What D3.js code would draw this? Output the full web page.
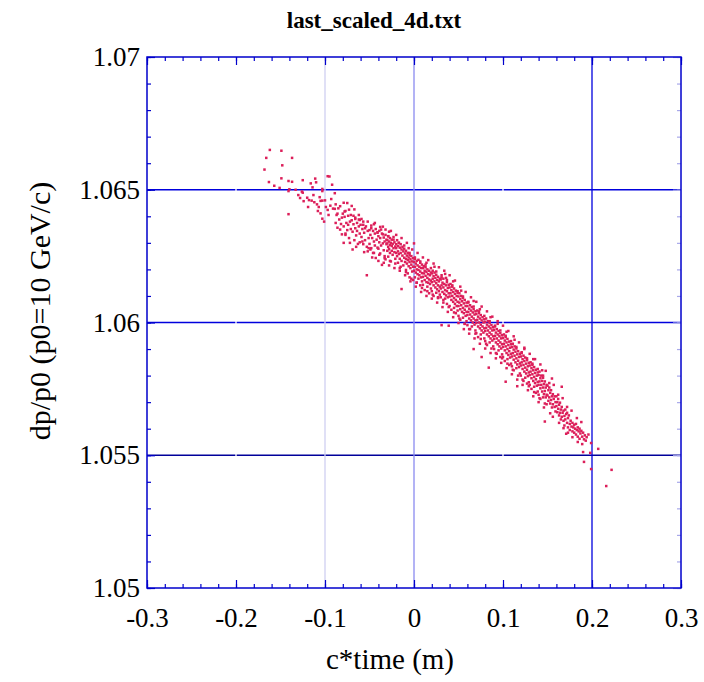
<!DOCTYPE html>
<html>
<head>
<meta charset="utf-8">
<script src="https://cdn.jsdelivr.net/npm/d3@7"></script>
<style>
	body { margin: 0; background: #fff; }
	svg { display: block; }
</style>
</head>
<body>
<svg width="704" height="682"></svg>
<script>
// chart texts
var chartTitle = "last_scaled_4d.txt";
var xLabel = "c*time (m)";
var yLabel = "dp/p0 (p0=10 GeV/c)";

// tick values and labels
var xMajorTicks = [-0.3, -0.2, -0.1, 0, 0.1, 0.2, 0.3];
var xTickLabels = ["-0.3", "-0.2", "-0.1", "0", "0.1", "0.2", "0.3"];
var yMajorTicks = [1.05, 1.055, 1.06, 1.065, 1.07];
var yTickLabels = ["1.05", "1.055", "1.06", "1.065", "1.07"];
var xGridValues = [-0.2, -0.1, 0, 0.1, 0.2];
var yGridValues = [1.055, 1.06, 1.065];

// particles: [c*time, dp/p0]
// head of the bunch (sparse, upper left)
var tailPoints = [
	[-0.162,1.06650],[-0.149,1.06647],[-0.166,1.06620],[-0.137,1.06620],[-0.148,1.06592],[-0.168,1.06576],
	[-0.163,1.06529],[-0.157,1.06515],[-0.149,1.06543],[-0.141,1.06533],[-0.137,1.06530],[-0.151,1.06507],
	[-0.140,1.06502],[-0.141,1.06495],[-0.125,1.06536],[-0.116,1.06524],[-0.111,1.06542],[-0.110,1.06528],
	[-0.114,1.06509],[-0.097,1.06551],[-0.095,1.06550],[-0.092,1.06519],[-0.089,1.06487],[-0.103,1.06503],
	[-0.103,1.06495],[-0.126,1.06493],[-0.125,1.06489],[-0.128,1.06469],[-0.124,1.06457],[-0.118,1.06461],
	[-0.115,1.06459],[-0.119,1.06435],[-0.112,1.06453],[-0.109,1.06445],[-0.106,1.06472],[-0.107,1.06435],
	[-0.105,1.06458],[-0.103,1.06459],[-0.141,1.06408],[-0.105,1.06411],[-0.103,1.06391],[-0.099,1.06435],
	[-0.097,1.06424],[-0.091,1.06429],[-0.120,1.06470],[-0.113,1.06480],[-0.100,1.06460],[-0.094,1.06440],
	[-0.130,1.06480],[-0.133,1.06500],[-0.108,1.06420],[-0.096,1.06405],[-0.101,1.06380],[-0.093,1.06465],
	[-0.079,1.06451],[-0.075,1.06450],[-0.070,1.06439],[-0.067,1.06426],[-0.061,1.06386]
];
// c*time -0.09 .. -0.03
var headBand = [
	[-0.089,1.06428],[-0.088,1.06375],[-0.087,1.06405],[-0.086,1.06357],[-0.085,1.06430],[-0.084,1.06388],[-0.083,1.06438],
	[-0.082,1.06371],[-0.081,1.06395],[-0.081,1.06332],[-0.086,1.06410],[-0.088,1.06445],[-0.083,1.06350],
	[-0.080,1.06410],[-0.079,1.06362],[-0.078,1.06398],[-0.077,1.06335],[-0.077,1.06420],[-0.076,1.06375],[-0.075,1.06348],
	[-0.074,1.06402],[-0.073,1.06318],[-0.072,1.06380],[-0.071,1.06352],[-0.079,1.06300],[-0.074,1.06368],[-0.071,1.06405],
	[-0.070,1.06385],[-0.069,1.06342],[-0.068,1.06370],[-0.067,1.06310],[-0.066,1.06395],[-0.066,1.06355],[-0.065,1.06328],
	[-0.064,1.06375],[-0.063,1.06296],[-0.062,1.06362],[-0.061,1.06335],[-0.068,1.06402],[-0.064,1.06345],[-0.062,1.06388],[-0.069,1.06275],
	[-0.060,1.06368],[-0.059,1.06322],[-0.058,1.06352],[-0.057,1.06295],[-0.057,1.06380],[-0.056,1.06338],[-0.055,1.06310],
	[-0.054,1.06362],[-0.053,1.06285],[-0.053,1.06178],[-0.052,1.06345],[-0.051,1.06318],[-0.059,1.06390],[-0.055,1.06355],
	[-0.052,1.06268],[-0.058,1.06305],
	[-0.050,1.06348],[-0.050,1.06296],[-0.049,1.06330],[-0.048,1.06365],[-0.048,1.06280],[-0.047,1.06318],[-0.046,1.06345],
	[-0.046,1.06262],[-0.045,1.06305],[-0.044,1.06335],[-0.044,1.06290],[-0.043,1.06243],[-0.043,1.06352],[-0.042,1.06312],
	[-0.041,1.06282],[-0.041,1.06338],[-0.049,1.06275],[-0.045,1.06370],
	[-0.040,1.06325],[-0.040,1.06278],[-0.039,1.06345],[-0.039,1.06302],[-0.038,1.06260],[-0.038,1.06318],[-0.037,1.06290],
	[-0.036,1.06335],[-0.036,1.06217],[-0.035,1.06361],[-0.035,1.06298],[-0.034,1.06272],[-0.034,1.06320],[-0.033,1.06305],
	[-0.033,1.06250],[-0.032,1.06330],[-0.032,1.06238],[-0.031,1.06295],[-0.031,1.06312],[-0.037,1.06350]
];
// c*time -0.03 .. 0.05
var coreBandLeft = [
	[-0.030,1.06310],[-0.030,1.06270],[-0.030,1.06298],[-0.029,1.06325],[-0.029,1.06285],[-0.029,1.06248],[-0.028,1.06305],
	[-0.028,1.06276],[-0.027,1.06318],[-0.027,1.06292],[-0.027,1.06262],[-0.026,1.06300],[-0.026,1.06230],[-0.025,1.06288],
	[-0.025,1.06312],[-0.025,1.06270],[-0.024,1.06296],[-0.024,1.06255],[-0.023,1.06322],[-0.023,1.06280],[-0.022,1.06302],
	[-0.022,1.06265],[-0.021,1.06286],[-0.021,1.06240],[-0.028,1.06342],
	[-0.020,1.06295],[-0.020,1.06262],[-0.020,1.06280],[-0.019,1.06310],[-0.019,1.06250],[-0.018,1.06288],[-0.018,1.06268],
	[-0.018,1.06225],[-0.017,1.06300],[-0.017,1.06258],[-0.016,1.06282],[-0.016,1.06240],[-0.015,1.06295],[-0.015,1.06262],
	[-0.014,1.06275],[-0.014,1.06126],[-0.014,1.06232],[-0.013,1.06285],[-0.013,1.06252],[-0.012,1.06268],[-0.012,1.06215],
	[-0.011,1.06278],[-0.011,1.06244],[-0.010,1.06260],[-0.016,1.06205],
	[-0.010,1.06228],[-0.009,1.06270],[-0.009,1.06240],[-0.009,1.06198],[-0.008,1.06252],[-0.008,1.06222],[-0.007,1.06262],
	[-0.007,1.06235],[-0.007,1.06185],[-0.006,1.06245],[-0.006,1.06212],[-0.005,1.06255],[-0.005,1.06228],[-0.005,1.06170],
	[-0.004,1.06238],[-0.004,1.06205],[-0.003,1.06250],[-0.003,1.06218],[-0.002,1.06230],[-0.002,1.06192],[-0.001,1.06242],
	[-0.001,1.06210],[-0.001,1.06160],[-0.006,1.06280],
	[0.000,1.06298],[0.000,1.06228],[0.000,1.06195],[0.001,1.06240],[0.001,1.06210],[0.001,1.06170],[0.002,1.06222],
	[0.002,1.06188],[0.003,1.06232],[0.003,1.06200],[0.003,1.06150],[0.004,1.06215],[0.004,1.06182],[0.005,1.06236],
	[0.005,1.06198],[0.005,1.06165],[0.006,1.06210],[0.006,1.06178],[0.007,1.06225],[0.007,1.06192],[0.007,1.06140],
	[0.008,1.06205],[0.008,1.06170],[0.009,1.06218],[0.009,1.06186],[0.009,1.06155],
	[0.010,1.06205],[0.010,1.06172],[0.010,1.06142],[0.011,1.06212],[0.011,1.06185],[0.012,1.06195],[0.012,1.06160],
	[0.012,1.06122],[0.013,1.06208],[0.013,1.06176],[0.014,1.06190],[0.014,1.06152],[0.015,1.06200],[0.015,1.06168],
	[0.015,1.06135],[0.016,1.06182],[0.016,1.06150],[0.017,1.06195],[0.017,1.06162],[0.017,1.06110],[0.018,1.06178],
	[0.018,1.06145],[0.019,1.06188],[0.019,1.06158],[0.019,1.06128],[0.014,1.06225],
	[0.020,1.06185],[0.020,1.06152],[0.020,1.06118],[0.021,1.06195],[0.021,1.06165],[0.022,1.06175],[0.022,1.06140],
	[0.022,1.06100],[0.023,1.06188],[0.023,1.06155],[0.024,1.06168],[0.024,1.06132],[0.025,1.06180],[0.025,1.06148],
	[0.025,1.06112],[0.026,1.06160],[0.026,1.06125],[0.027,1.06172],[0.027,1.06140],[0.027,1.06095],[0.028,1.06155],
	[0.028,1.06118],[0.029,1.06165],[0.029,1.06135],[0.029,1.06105],[0.023,1.06210],
	[0.030,1.06162],[0.030,1.06128],[0.030,1.06095],[0.031,1.06170],[0.031,1.05990],[0.031,1.06140],[0.032,1.06150],
	[0.032,1.06115],[0.033,1.06165],[0.033,1.06132],[0.033,1.06085],[0.034,1.06145],[0.034,1.06108],[0.035,1.06183],
	[0.035,1.06122],[0.035,1.06090],[0.036,1.06140],[0.036,1.06102],[0.037,1.06152],[0.037,1.06118],[0.037,1.06070],
	[0.038,1.06130],[0.038,1.06095],[0.039,1.06142],[0.039,1.05988],[0.039,1.06110],[0.036,1.06168],
	[0.040,1.06132],[0.040,1.06098],[0.040,1.06062],[0.041,1.06145],[0.041,1.06110],[0.042,1.06122],[0.042,1.06085],
	[0.042,1.06048],[0.043,1.06135],[0.043,1.06100],[0.044,1.06115],[0.044,1.06078],[0.045,1.06128],[0.045,1.06092],
	[0.045,1.06055],[0.046,1.06108],[0.046,1.06070],[0.047,1.06120],[0.047,1.06085],[0.047,1.06035],[0.048,1.06100],
	[0.048,1.06062],[0.049,1.06112],[0.049,1.06078],[0.049,1.06045],[0.044,1.06155]
];
// c*time 0.05 .. 0.10
var coreBandMid = [
	[0.050,1.06098],[0.050,1.06062],[0.050,1.06025],[0.051,1.06110],[0.051,1.06075],[0.052,1.06088],[0.052,1.06050],
	[0.052,1.06010],[0.053,1.06100],[0.053,1.06065],[0.054,1.06080],[0.054,1.06040],[0.055,1.06092],[0.055,1.06055],
	[0.055,1.06018],[0.056,1.06072],[0.056,1.06035],[0.057,1.06085],[0.057,1.06048],[0.057,1.05995],[0.058,1.06062],
	[0.058,1.06025],[0.059,1.06075],[0.059,1.06040],[0.059,1.06005],[0.053,1.06120],
	[0.060,1.06062],[0.060,1.06028],[0.060,1.05990],[0.061,1.06075],[0.061,1.06040],[0.062,1.06052],[0.062,1.06015],
	[0.062,1.05975],[0.063,1.06065],[0.063,1.06030],[0.064,1.06045],[0.064,1.06008],[0.065,1.06058],[0.065,1.06022],
	[0.065,1.05985],[0.066,1.06038],[0.066,1.06000],[0.067,1.06050],[0.067,1.06015],[0.067,1.05900],[0.068,1.06030],
	[0.068,1.05992],[0.069,1.06042],[0.069,1.06008],[0.069,1.05970],[0.067,1.06081],
	[0.070,1.06032],[0.070,1.05998],[0.070,1.05960],[0.071,1.06045],[0.071,1.06010],[0.072,1.06022],[0.072,1.05985],
	[0.072,1.05945],[0.073,1.06035],[0.073,1.06000],[0.074,1.06015],[0.074,1.05978],[0.075,1.06028],[0.075,1.05992],
	[0.075,1.05955],[0.076,1.06008],[0.076,1.05970],[0.076,1.05870],[0.077,1.06020],[0.077,1.05985],[0.078,1.06000],
	[0.078,1.05962],[0.079,1.06012],[0.079,1.05978],[0.079,1.05940],[0.074,1.06050],
	[0.080,1.06002],[0.080,1.05968],[0.080,1.05930],[0.081,1.06015],[0.081,1.05980],[0.082,1.05992],[0.082,1.05955],
	[0.082,1.05915],[0.083,1.06005],[0.083,1.05970],[0.084,1.05985],[0.084,1.05948],[0.084,1.05830],[0.085,1.05998],
	[0.085,1.05962],[0.085,1.05925],[0.086,1.05978],[0.086,1.05940],[0.087,1.05990],[0.087,1.05955],[0.088,1.05970],
	[0.088,1.05932],[0.089,1.05982],[0.089,1.05948],[0.089,1.05910],[0.086,1.06020],
	[0.090,1.05972],[0.090,1.05938],[0.090,1.05900],[0.091,1.05985],[0.091,1.05950],[0.092,1.05962],[0.092,1.05925],
	[0.092,1.05885],[0.093,1.05975],[0.093,1.05940],[0.094,1.05955],[0.094,1.05918],[0.095,1.05968],[0.095,1.05932],
	[0.095,1.05895],[0.096,1.05948],[0.096,1.05910],[0.097,1.05960],[0.097,1.05925],[0.097,1.05870],[0.098,1.05940],
	[0.098,1.05902],[0.099,1.05952],[0.099,1.05918],[0.099,1.05880],[0.094,1.05995]
];
// c*time 0.10 .. 0.15
var coreBandRight = [
	[0.100,1.05942],[0.100,1.05908],[0.100,1.05870],[0.101,1.05955],[0.101,1.05920],[0.102,1.05932],[0.102,1.05895],
	[0.102,1.05855],[0.103,1.05945],[0.103,1.05777],[0.103,1.05910],[0.104,1.05925],[0.104,1.05885],[0.105,1.05938],
	[0.105,1.05900],[0.105,1.05862],[0.106,1.05915],[0.106,1.05878],[0.107,1.05928],[0.107,1.05892],[0.107,1.05840],
	[0.108,1.05905],[0.108,1.05868],[0.109,1.05918],[0.109,1.05882],[0.109,1.05845],[0.104,1.05965],
	[0.110,1.05908],[0.110,1.05872],[0.110,1.05835],[0.111,1.05920],[0.111,1.05885],[0.112,1.05898],[0.112,1.05860],
	[0.112,1.05820],[0.113,1.05910],[0.113,1.05875],[0.114,1.05890],[0.114,1.05850],[0.115,1.05902],[0.115,1.05865],
	[0.115,1.05828],[0.116,1.05880],[0.116,1.05842],[0.116,1.05760],[0.117,1.05892],[0.117,1.05856],[0.118,1.05870],
	[0.118,1.05832],[0.119,1.05882],[0.119,1.05846],[0.119,1.05808],[0.113,1.05935],
	[0.120,1.05872],[0.120,1.05838],[0.120,1.05800],[0.121,1.05885],[0.121,1.05850],[0.122,1.05862],[0.122,1.05825],
	[0.122,1.05785],[0.123,1.05875],[0.123,1.05840],[0.124,1.05855],[0.124,1.05815],[0.125,1.05868],[0.125,1.05830],
	[0.125,1.05792],[0.126,1.05845],[0.126,1.05808],[0.127,1.05858],[0.127,1.05822],[0.127,1.05770],[0.128,1.05835],
	[0.128,1.05798],[0.129,1.05848],[0.129,1.05812],[0.129,1.05775],[0.124,1.05900],
	[0.130,1.05838],[0.130,1.05802],[0.130,1.05765],[0.131,1.05850],[0.131,1.05815],[0.132,1.05828],[0.132,1.05790],
	[0.132,1.05750],[0.133,1.05840],[0.133,1.05805],[0.134,1.05820],[0.134,1.05780],[0.135,1.05832],[0.135,1.05795],
	[0.135,1.05758],[0.136,1.05810],[0.136,1.05772],[0.137,1.05822],[0.137,1.05786],[0.137,1.05735],[0.138,1.05800],
	[0.138,1.05762],[0.139,1.05812],[0.139,1.05776],[0.139,1.05740],[0.134,1.05862],
	[0.140,1.05802],[0.140,1.05765],[0.140,1.05728],[0.141,1.05815],[0.141,1.05778],[0.142,1.05790],[0.142,1.05752],
	[0.142,1.05712],[0.143,1.05800],[0.143,1.05765],[0.144,1.05780],[0.144,1.05740],[0.145,1.05792],[0.145,1.05755],
	[0.145,1.05718],[0.146,1.05768],[0.146,1.05730],[0.147,1.05778],[0.147,1.05742],[0.147,1.05627],[0.148,1.05755],
	[0.148,1.05718],[0.149,1.05765],[0.149,1.05728],[0.149,1.05692],[0.144,1.05820]
];
// c*time 0.15 .. 0.196
var trailBand = [
	[0.150,1.05762],[0.150,1.05725],[0.151,1.05745],[0.151,1.05705],[0.152,1.05755],[0.152,1.05718],[0.153,1.05735],
	[0.153,1.05695],[0.154,1.05745],[0.154,1.05708],[0.155,1.05789],[0.155,1.05722],[0.155,1.05680],[0.156,1.05730],
	[0.156,1.05692],[0.157,1.05712],[0.158,1.05722],[0.158,1.05682],[0.159,1.05700],[0.159,1.05665],
	[0.160,1.05722],[0.160,1.05685],[0.161,1.05700],[0.161,1.05662],[0.162,1.05712],[0.162,1.05675],[0.163,1.05690],
	[0.163,1.05650],[0.164,1.05698],[0.164,1.05660],[0.165,1.05672],[0.165,1.05635],[0.166,1.05758],[0.166,1.05682],
	[0.166,1.05645],[0.167,1.05660],[0.168,1.05668],[0.168,1.05630],[0.169,1.05648],[0.169,1.05612],
	[0.170,1.05672],[0.170,1.05635],[0.171,1.05581],[0.171,1.05655],[0.172,1.05660],[0.172,1.05622],[0.173,1.05640],
	[0.173,1.05605],[0.174,1.05650],[0.175,1.05618],[0.175,1.05595],[0.176,1.05630],[0.177,1.05608],[0.178,1.05622],
	[0.178,1.05590],[0.179,1.05605],
	[0.180,1.05615],[0.180,1.05585],[0.181,1.05600],[0.182,1.05618],[0.182,1.05578],[0.183,1.05595],[0.184,1.05605],
	[0.184,1.05570],[0.185,1.05590],[0.186,1.05600],[0.186,1.05562],[0.187,1.05582],[0.188,1.05592],[0.189,1.05570],
	[0.190,1.05585],[0.191,1.05560],[0.192,1.05575],[0.193,1.05555],[0.194,1.05568],[0.196,1.05578]
];
// looser particles on both edges of the band
var edgePoints = [
	[-0.078,1.06418],[-0.077,1.06330],[-0.073,1.06425],[-0.072,1.06300],[-0.066,1.06390],[-0.065,1.06285],
	[-0.062,1.06405],[-0.061,1.06302],[-0.057,1.06368],[-0.056,1.06265],[-0.052,1.06380],[-0.051,1.06280],
	[-0.048,1.06355],[-0.047,1.06245],[-0.044,1.06375],[-0.045,1.06262],[-0.041,1.06340],[-0.040,1.06232],
	[-0.038,1.06360],[-0.039,1.06255],[-0.035,1.06332],[-0.034,1.06225],[-0.032,1.06350],[-0.033,1.06242],
	[-0.029,1.06325],[-0.028,1.06215],[-0.026,1.06345],[-0.027,1.06232],[-0.023,1.06312],[-0.022,1.06205],
	[-0.020,1.06330],[-0.021,1.06222],[-0.017,1.06300],[-0.016,1.06195],[-0.014,1.06318],[-0.015,1.06210],
	[-0.011,1.06290],[-0.010,1.06178],[-0.008,1.06300],[-0.009,1.06190],[-0.005,1.06262],[-0.004,1.06155],
	[-0.002,1.06275],[-0.003,1.06165],[0.001,1.06245],[0.002,1.06135],[0.004,1.06262],[0.003,1.06150],
	[0.007,1.06230],[0.008,1.06115],[0.010,1.06245],[0.009,1.06130],[0.013,1.06218],[0.014,1.06100],
	[0.016,1.06235],[0.015,1.06118],[0.019,1.06205],[0.020,1.06090],[0.022,1.06222],[0.021,1.06105],
	[0.025,1.06192],[0.026,1.06075],[0.028,1.06208],[0.027,1.06092],[0.031,1.06178],[0.032,1.06058],
	[0.034,1.06195],[0.033,1.06075],[0.037,1.06160],[0.038,1.06040],[0.040,1.06178],[0.039,1.06058],
	[0.043,1.06140],[0.044,1.06020],[0.046,1.06158],[0.045,1.06038],[0.049,1.06118],[0.050,1.05998],
	[0.052,1.06135],[0.051,1.06015],[0.055,1.06098],[0.056,1.05975],[0.058,1.06115],[0.057,1.05995],
	[0.061,1.06078],[0.062,1.05958],[0.064,1.06095],[0.063,1.05975],[0.067,1.06060],[0.068,1.05940],
	[0.070,1.06078],[0.069,1.05958],[0.073,1.06042],[0.074,1.05920],[0.076,1.06060],[0.075,1.05938],
	[0.079,1.06025],[0.080,1.05902],[0.082,1.06042],[0.081,1.05920],[0.085,1.06005],[0.086,1.05885],
	[0.088,1.06022],[0.087,1.05902],[0.091,1.05988],[0.092,1.05865],[0.094,1.06005],[0.093,1.05882],
	[0.097,1.05970],[0.098,1.05848],[0.100,1.05988],[0.099,1.05865],[0.103,1.05950],[0.104,1.05828],
	[0.106,1.05968],[0.105,1.05845],[0.109,1.05930],[0.110,1.05805],[0.112,1.05948],[0.111,1.05822],
	[0.115,1.05908],[0.116,1.05785],[0.118,1.05925],[0.117,1.05800],[0.121,1.05888],[0.122,1.05765],
	[0.124,1.05905],[0.123,1.05780],[0.127,1.05865],[0.128,1.05745],[0.130,1.05882],[0.129,1.05760],
	[0.133,1.05845],[0.134,1.05722],[0.136,1.05862],[0.135,1.05738],[0.139,1.05825],[0.140,1.05700],
	[0.142,1.05842],[0.141,1.05715],[0.145,1.05800],[0.146,1.05680],[0.148,1.05818],[0.147,1.05695],
	[0.152,1.05772],[0.153,1.05658],[0.157,1.05765],[0.156,1.05645],[0.162,1.05728],[0.163,1.05622],
	[0.167,1.05715],[0.168,1.05602],[0.172,1.05682],[0.173,1.05585],[0.177,1.05668],[0.178,1.05568],
	[0.183,1.05640],[0.184,1.05550],[0.188,1.05625],[0.189,1.05542]
];
var strayPoints = [
	[0.199,1.05546],[0.207,1.05524],[0.190,1.05512],[0.198,1.05509],
	[0.191,1.05475],[0.199,1.05448],[0.222,1.05445],[0.216,1.05384]
];

function createGraph() {
	// the svg is 704 x 682, plot box sits inside these margins
	var svg = d3.select("svg"),
	margin = {top: 57, right: 23, bottom: 94, left: 147},
	width = +svg.attr("width") - margin.left - margin.right,
	height = +svg.attr("height") - margin.top - margin.bottom,
	g = svg.append("g").attr("transform", "translate(" + margin.left + "," + margin.top + ")");

	var serif = "'Liberation Serif', 'Times New Roman', Times, serif";
	var axisBlue = "#0000cc";
	// each grid line has its own colour in the original
	var gridColour = {"-0.2": "#ffffff", "-0.1": "#cfcff2", "0": "#8a8af0", "0.1": "#ffffff", "0.2": "#0000dd",
		"1.055": "#00009a", "1.06": "#0000dd", "1.065": "#0000dd"};

	var x = d3.scaleLinear().domain([-0.3, 0.3]).range([0, width]);
	var y = d3.scaleLinear().domain([1.05, 1.07]).range([height, 0]);

	var points = [].concat(tailPoints, headBand, coreBandLeft, coreBandMid, coreBandRight, trailBand, edgePoints, strayPoints);

	// horizontal grid first, vertical on top (the white ones cut little gaps)
	g.selectAll("line.hgrid")
		.data(yGridValues).enter().append("line")
		.attr("class", "hgrid")
		.attr("x1", 0).attr("x2", width)
		.attr("y1", function(d) { return y(d); })
		.attr("y2", function(d) { return y(d); })
		.style("stroke", function(d) { return gridColour[String(d)]; })
		.style("stroke-width", 1.3);
	g.selectAll("line.vgrid")
		.data(xGridValues).enter().append("line")
		.attr("class", "vgrid")
		.attr("y1", 0).attr("y2", height)
		.attr("x1", function(d) { return x(d); })
		.attr("x2", function(d) { return x(d); })
		.style("stroke", function(d) { return gridColour[String(d)]; })
		.style("stroke-width", 1.3);

	// the particles
	g.selectAll("rect.pt")
		.data(points).enter().append("rect")
		.attr("class", "pt")
		.attr("x", function(d) { return x(d[0]) - 1.25; })
		.attr("y", function(d) { return y(d[1]) - 1.25; })
		.attr("width", 2.5)
		.attr("height", 2.5)
		.attr("fill", "#dc1f5a");

	// minor tick positions
	var xMinor = d3.range(-0.3, 0.3001, 0.02);
	var yMinor = d3.range(1.05, 1.07001, 0.001);

	function styleAxis(sel, colour) {
		sel.select(".domain").remove();
		sel.selectAll(".tick line").style("stroke", colour).style("stroke-width", 1.2);
		sel.selectAll("text").style("font-family", serif).style("font-size", "27px").attr("fill", "#000");
	}

	// bottom axis: labelled major ticks + minor ticks, all pointing inward
	g.append("g")
		.attr("transform", "translate(0," + height + ")")
		.call(d3.axisBottom(x).tickValues(xMinor).tickFormat("").tickSizeInner(-4).tickSizeOuter(0))
		.call(styleAxis, axisBlue);
	g.append("g")
		.attr("transform", "translate(0," + height + ")")
		.call(d3.axisBottom(x).tickValues(xMajorTicks).tickFormat(function(d, i) { return xTickLabels[i]; })
			.tickSizeInner(-8).tickSizeOuter(0).tickPadding(20))
		.call(styleAxis, axisBlue);
	// top axis, ticks only
	g.append("g")
		.call(d3.axisTop(x).tickValues(xMinor).tickFormat("").tickSizeInner(-4).tickSizeOuter(0))
		.call(styleAxis, axisBlue);
	g.append("g")
		.call(d3.axisTop(x).tickValues(xMajorTicks).tickFormat("").tickSizeInner(-8).tickSizeOuter(0))
		.call(styleAxis, axisBlue);
	// left axis
	g.append("g")
		.call(d3.axisLeft(y).tickValues(yMinor).tickFormat("").tickSizeInner(-4).tickSizeOuter(0))
		.call(styleAxis, axisBlue);
	g.append("g")
		.call(d3.axisLeft(y).tickValues(yMajorTicks).tickFormat(function(d, i) { return yTickLabels[i]; })
			.tickSizeInner(-8).tickSizeOuter(0).tickPadding(7))
		.call(styleAxis, axisBlue);
	// right axis, lighter ticks
	g.append("g")
		.attr("transform", "translate(" + width + ",0)")
		.call(d3.axisRight(y).tickValues(yMinor).tickFormat("").tickSizeInner(-4).tickSizeOuter(0))
		.call(styleAxis, "#a8a8ea");
	g.append("g")
		.attr("transform", "translate(" + width + ",0)")
		.call(d3.axisRight(y).tickValues(yMajorTicks).tickFormat("").tickSizeInner(-8).tickSizeOuter(0))
		.call(styleAxis, "#a8a8ea");

	// frame
	g.append("rect")
		.attr("width", width).attr("height", height)
		.attr("fill", "none")
		.style("stroke", axisBlue)
		.style("stroke-width", 1.5);

	// title and axis titles
	svg.append("text")
		.attr("x", 374).attr("y", 28)
		.attr("text-anchor", "middle")
		.style("font-family", serif)
		.style("font-size", "23px").style("font-weight", "bold")
		.text(chartTitle);
	svg.append("text")
		.attr("x", 390).attr("y", 669)
		.attr("text-anchor", "middle")
		.style("font-family", serif)
		.style("font-size", "29px")
		.text(xLabel);
	svg.append("text")
		.attr("transform", "translate(50," + 311 + ") rotate(-90)")
		.attr("text-anchor", "middle")
		.style("font-family", serif)
		.style("font-size", "30px")
		.text(yLabel);
}

createGraph();
</script>
</body>
</html>
